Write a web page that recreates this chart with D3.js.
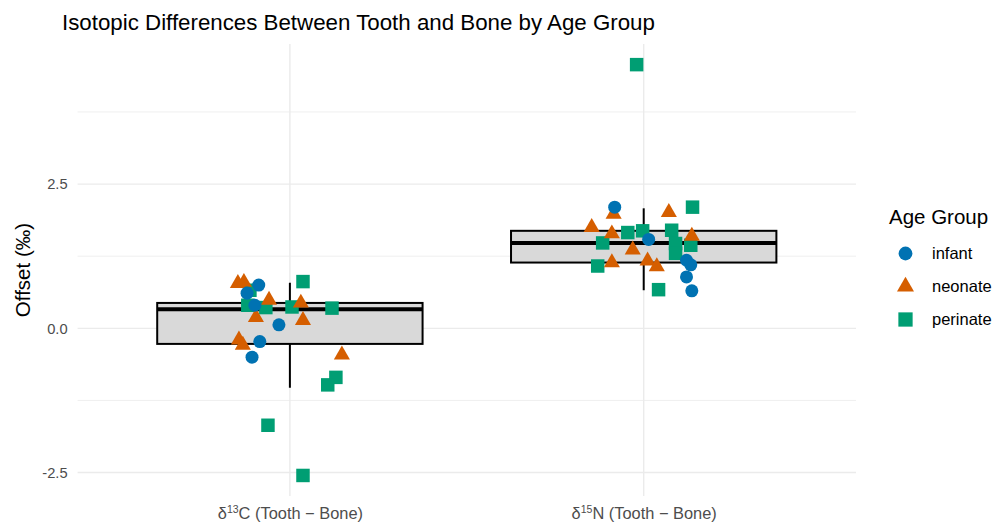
<!DOCTYPE html>
<html>
<head>
<meta charset="utf-8">
<script src="https://cdn.jsdelivr.net/npm/d3@7"></script>
<style>
  html, body { margin: 0; padding: 0; background: #ffffff; }
  svg { display: block; font-family: "Liberation Sans", Arial, sans-serif; }
</style>
</head>
<body>
<svg id="chart" width="995" height="525"></svg>
<script>
// Isotope categories on the x axis: [element prefix, mass number, element, suffix]
const isotopes = ["δ¹³C (Tooth − Bone)", "δ¹⁵N (Tooth − Bone)"];
const isotopeParts = [["δ", "13", "C", " (Tooth − Bone)"], ["δ", "15", "N", " (Tooth − Bone)"]];
const ageGroups = ["infant", "neonate", "perinate"];
const groupColors = ["#0072B2", "#D55E00", "#009E73"];

// Box summaries per isotope: lower whisker, Q1, median, Q3, upper whisker
const whiskerLow = [-1.03, 0.66];
const q1 = [-0.27, 1.14];
const median = [0.33, 1.48];
const q3 = [0.44, 1.69];
const whiskerHigh = [0.79, 2.08];

// Individual offsets: [horizontal jitter (category units), offset ‰]
const carbonInfant = [[-0.088, 0.75], [-0.121, 0.61], [-0.099, 0.40], [-0.031, 0.06], [-0.085, -0.23], [-0.107, -0.50]];
const carbonNeonate = [[-0.147, 0.78], [-0.130, 0.80], [-0.059, 0.49], [-0.096, 0.19], [0.031, 0.44], [0.037, 0.14], [-0.144, -0.20], [-0.133, -0.29], [0.147, -0.46]];
const carbonPerinate = [[-0.113, 0.66], [-0.119, 0.40], [-0.068, 0.36], [0.006, 0.37], [0.037, 0.81], [0.119, 0.35], [0.130, -0.85], [0.107, -0.98], [-0.062, -1.68], [0.037, -2.55]];
const nitrogenInfant = [[-0.082, 2.10], [0.014, 1.54], [0.121, 1.18], [0.133, 1.10], [0.121, 0.89], [0.136, 0.65]];
const nitrogenNeonate = [[-0.085, 1.98], [-0.147, 1.75], [-0.090, 1.64], [-0.031, 1.36], [-0.090, 1.14], [0.011, 1.17], [0.037, 1.07], [0.071, 2.01], [0.136, 1.60]];
const nitrogenPerinate = [[-0.045, 1.66], [-0.003, 1.69], [-0.116, 1.48], [-0.130, 1.08], [0.042, 0.67], [0.138, 2.10], [0.079, 1.70], [0.090, 1.47], [0.090, 1.30], [0.133, 1.44], [-0.020, 4.57]];

// Axis ticks
const yMajorTicks = [-2.5, 0, 2.5];
const yMinorTicks = [-1.25, 1.25, 3.75];

// Long table of points
const pointSets = [
  [0, 2, carbonPerinate], [1, 2, nitrogenPerinate],
  [0, 1, carbonNeonate], [1, 1, nitrogenNeonate],
  [0, 0, carbonInfant], [1, 0, nitrogenInfant]
];
const points = [];
pointSets.forEach(([iso, grp, arr]) => arr.forEach(([dx, v]) => points.push({ iso, grp, dx, v })));

const svg = d3.select("#chart");
const panel = { left: 77.6, right: 856, top: 44.1, bottom: 496 };

// y scale with 5% expansion of the data range
const allVals = points.map(d => d.v).concat(whiskerLow, whiskerHigh);
const [vmin, vmax] = d3.extent(allVals);
const pad = (vmax - vmin) * 0.05;
const y = d3.scaleLinear().domain([vmin - pad, vmax + pad]).range([panel.bottom, panel.top]);

// Discrete x positions with 0.6 step of padding on each side
const x = d3.scalePoint().domain(isotopes).range([panel.left, panel.right]).padding(0.6);
const step = x.step();

const shape = d3.scaleOrdinal().domain(ageGroups).range([d3.symbolCircle, d3.symbolTriangle, d3.symbolSquare]);
const shapeSize = d3.scaleOrdinal().domain(ageGroups).range([133, 112, 182]);
const color = d3.scaleOrdinal().domain(ageGroups).range(groupColors);

// Grid
const grid = svg.append("g");
grid.selectAll("line.minor").data(yMinorTicks).join("line")
  .attr("x1", panel.left).attr("x2", panel.right)
  .attr("y1", d => y(d)).attr("y2", d => y(d))
  .attr("stroke", "#EBEBEB").attr("stroke-width", 0.8);
grid.selectAll("line.major").data(yMajorTicks).join("line")
  .attr("x1", panel.left).attr("x2", panel.right)
  .attr("y1", d => y(d)).attr("y2", d => y(d))
  .attr("stroke", "#EBEBEB").attr("stroke-width", 1.4);
grid.selectAll("line.vmajor").data(isotopes).join("line")
  .attr("x1", d => x(d)).attr("x2", d => x(d))
  .attr("y1", panel.top).attr("y2", panel.bottom)
  .attr("stroke", "#EBEBEB").attr("stroke-width", 1.4);

// Boxplots
const boxW = 0.75 * step;
const boxes = svg.append("g");
isotopes.forEach((iso, i) => {
  const cx = x(iso);
  boxes.append("line").attr("x1", cx).attr("x2", cx)
    .attr("y1", y(whiskerHigh[i])).attr("y2", y(q3[i]))
    .attr("stroke", "#000").attr("stroke-width", 2);
  boxes.append("line").attr("x1", cx).attr("x2", cx)
    .attr("y1", y(q1[i])).attr("y2", y(whiskerLow[i]))
    .attr("stroke", "#000").attr("stroke-width", 2);
  boxes.append("rect")
    .attr("x", cx - boxW / 2).attr("width", boxW)
    .attr("y", y(q3[i])).attr("height", y(q1[i]) - y(q3[i]))
    .attr("fill", "#D9D9D9").attr("stroke", "#000").attr("stroke-width", 2);
  boxes.append("line")
    .attr("x1", cx - boxW / 2).attr("x2", cx + boxW / 2)
    .attr("y1", y(median[i])).attr("y2", y(median[i]))
    .attr("stroke", "#000").attr("stroke-width", 4);
});

// Points
svg.append("g").selectAll("path").data(points).join("path")
  .attr("transform", d => `translate(${x(isotopes[d.iso]) + d.dx * step},${y(d.v)})`)
  .attr("d", d => d3.symbol().type(shape(ageGroups[d.grp])).size(shapeSize(ageGroups[d.grp]))())
  .attr("fill", d => color(ageGroups[d.grp]));

// Axes
const yAxis = svg.append("g").attr("transform", `translate(${panel.left},0)`)
  .call(d3.axisLeft(y).tickValues(yMajorTicks).tickSize(0).tickPadding(10).tickFormat(d => d.toFixed(1)));
yAxis.select(".domain").remove();
yAxis.selectAll("text").attr("font-size", 14.7).attr("fill", "#4D4D4D")
  .attr("font-family", "Liberation Sans, Arial, sans-serif");

const xAxis = svg.append("g").attr("transform", `translate(0,${panel.bottom})`)
  .call(d3.axisBottom(x).tickSize(0).tickPadding(11));
xAxis.select(".domain").remove();
// Category labels with a raised mass number
xAxis.selectAll(".tick text").each(function (d, i) {
  const t = d3.select(this).text(null)
    .attr("font-size", 16.4).attr("fill", "#4D4D4D")
    .attr("font-family", "Liberation Sans, Arial, sans-serif");
  const p = isotopeParts[i];
  t.append("tspan").text(p[0]);
  t.append("tspan").attr("font-size", 10.5).attr("dy", -5.5).text(p[1]);
  t.append("tspan").attr("dy", 5.5).text(p[2] + p[3]);
});

// Titles
svg.append("text").attr("x", 62).attr("y", 29.5)
  .attr("font-size", 22.3).attr("fill", "#000")
  .text("Isotopic Differences Between Tooth and Bone by Age Group");
svg.append("text")
  .attr("transform", `translate(30,${(panel.top + panel.bottom) / 2}) rotate(-90)`)
  .attr("text-anchor", "middle").attr("font-size", 20.5).attr("fill", "#000")
  .text("Offset (‰)");

// Legend
const legend = svg.append("g");
legend.append("text").attr("x", 889).attr("y", 223.5)
  .attr("font-size", 20.5).attr("fill", "#000").text("Age Group");
ageGroups.forEach((g, i) => {
  const ky = 253.5 + i * 33;
  legend.append("path")
    .attr("transform", `translate(905.5,${ky})`)
    .attr("d", d3.symbol().type(shape(g)).size(shapeSize(g) * 1.12)())
    .attr("fill", color(g));
  legend.append("text").attr("x", 932).attr("y", ky + 5.8)
    .attr("font-size", 16.5).attr("fill", "#000").text(g);
});
</script>
</body>
</html>
